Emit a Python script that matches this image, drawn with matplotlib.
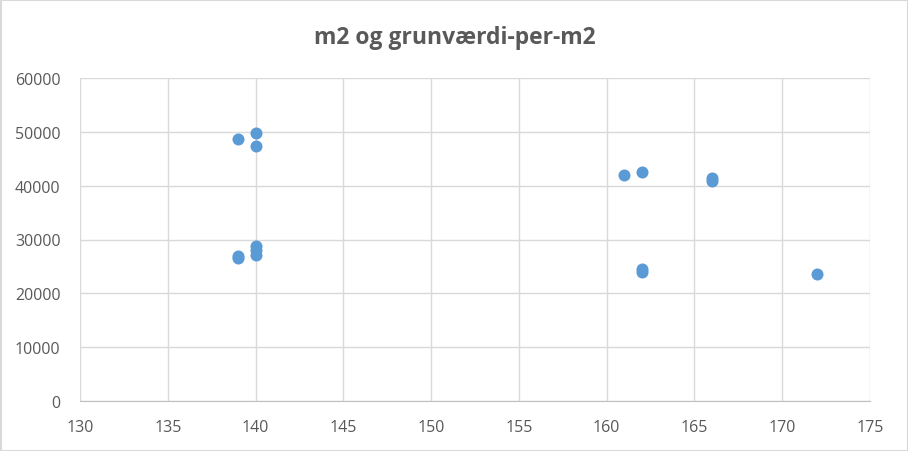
import matplotlib
matplotlib.use("Agg")
import matplotlib.pyplot as plt
from matplotlib.patches import Rectangle

# Data
m2 = [139, 140, 140, 139, 139, 140, 140, 140, 161, 162, 166, 166, 162, 162, 172]
grundvaerdi_per_m2 = [48600, 49700, 47400, 26600, 27000, 28700, 28000, 27200,
                      42000, 42500, 41400, 40800, 24500, 24000, 23600]

x_ticks = [130, 135, 140, 145, 150, 155, 160, 165, 170, 175]
y_ticks = [0, 10000, 20000, 30000, 40000, 50000, 60000]
title = "m2 og grunværdi-per-m2"

plt.rcParams['font.family'] = ['Open Sans', 'DejaVu Sans']

fig = plt.figure(figsize=(9.08, 4.52), dpi=100)
ax = fig.add_axes([80/908, 1-402/452, 790/908, 323/452])

ax.scatter(m2, grundvaerdi_per_m2, s=75, color='#5B9BD5', zorder=3, linewidths=0)

ax.set_xlim(130, 175)
ax.set_ylim(0, 60000)
ax.set_xticks(x_ticks)
ax.set_yticks(y_ticks)
ax.grid(True, color='#D9D9D9', linewidth=1)
ax.set_axisbelow(True)
for s in ['top', 'right', 'left']:
    ax.spines[s].set_visible(False)
ax.spines['bottom'].set_color('#BFBFBF')
ax.tick_params(axis='both', length=0, labelsize=11.5, labelcolor='#595959')
ax.tick_params(axis='x', pad=13)
ax.tick_params(axis='y', pad=14)

fig.text(455/908, 1-38/452, title, ha='center', va='center', fontsize=16.5,
         fontweight='bold', color='#595959')

fig.patches.append(Rectangle((0.5/908, 0.5/452), 1-1/908, 1-1/452, transform=fig.transFigure,
                             fill=False, edgecolor='#D9D9D9', linewidth=1.5))

fig.savefig('out.png', dpi=100)
